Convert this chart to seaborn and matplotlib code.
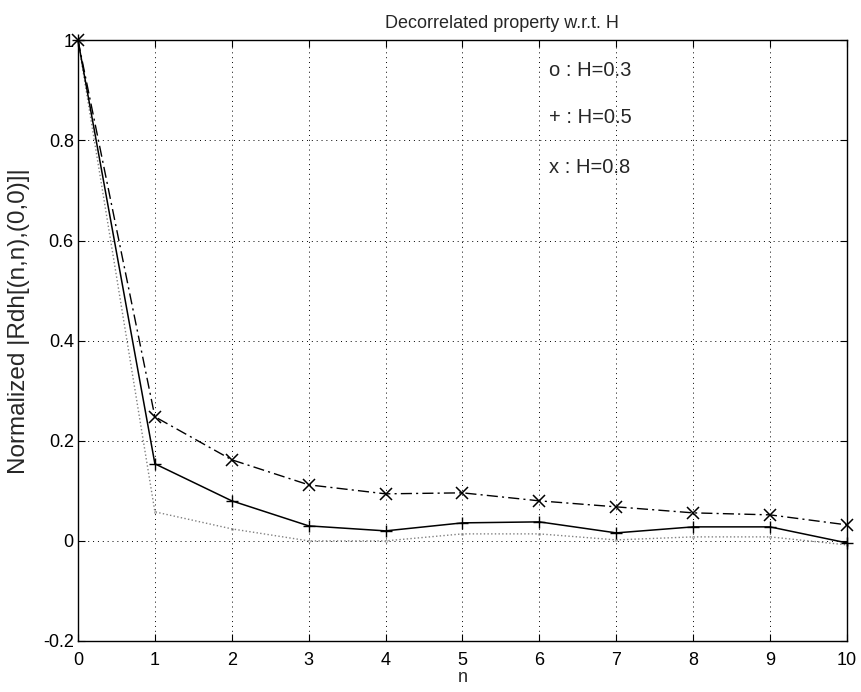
import numpy as np
import pandas as pd
import matplotlib
matplotlib.use("Agg")
import matplotlib.pyplot as plt
import seaborn as sns

n = list(range(11))
h03 = [1.0, 0.058, 0.024, 0.0, 0.0, 0.014, 0.014, 0.002, 0.008, 0.008, -0.008]
h05 = [1.0, 0.154, 0.080, 0.030, 0.020, 0.036, 0.038, 0.016, 0.028, 0.028, -0.004]
h08 = [1.0, 0.248, 0.162, 0.112, 0.094, 0.096, 0.080, 0.068, 0.056, 0.052, 0.032]
legend_texts = ["o : H=0.3", "+ : H=0.5", "x : H=0.8"]
xticks = list(range(11))
yticks = [-0.2, 0, 0.2, 0.4, 0.6, 0.8, 1]
ytick_labels = ["-0.2", "0", "0.2", "0.4", "0.6", "0.8", "1"]

sns.set_style("white")
plt.rcParams['font.family'] = ['Liberation Sans', 'DejaVu Sans']

fig = plt.figure(figsize=(8.61, 6.92), dpi=100)
ax = fig.add_axes([0.0906, 0.0737, 0.893, 0.868])

df = pd.DataFrame({"n": n, "h03": h03, "h05": h05, "h08": h08})
sns.lineplot(data=df, x="n", y="h03", ax=ax, color="#808080", linestyle=":",
             linewidth=1.0)
ax.lines[-1].set(marker="o", markersize=1.5, markeredgewidth=0.5,
                 markerfacecolor="none", markeredgecolor="#999999", clip_on=False)
sns.lineplot(data=df, x="n", y="h05", ax=ax, color="black", linestyle="-",
             linewidth=1.1)
ax.lines[-1].set(marker="+", markersize=9, markeredgewidth=1.0,
                 markeredgecolor="black", clip_on=False)
sns.lineplot(data=df, x="n", y="h08", ax=ax, color="black",
             linestyle=(0, (8, 3, 1.5, 3)), linewidth=1.0)
ax.lines[-1].set(marker="x", markersize=9, markeredgewidth=1.1,
                 markeredgecolor="black", clip_on=False)

ax.set_xlim(0, 10)
ax.set_ylim(-0.2, 1)
ax.set_xticks(xticks)
ax.set_yticks(yticks)
ax.set_yticklabels(ytick_labels)
ax.tick_params(direction="in", length=5, width=0.8, labelsize=13, colors="black",
               top=True, right=True, bottom=True, left=True, pad=3)
ax.tick_params(axis="x", pad=8)
ax.grid(True, linestyle=(0, (1, 4)), color="black", linewidth=0.7)
for s in ax.spines.values():
    s.set_color("black")
    s.set_linewidth(1.0)

ax.set_xlabel("n", fontsize=13, labelpad=0)
ax.set_ylabel("Normalized |Rdh[(n,n),(0,0)]|", fontsize=17.5, y=0.532)
ax.yaxis.set_label_coords(-0.062, 0.532)
ax.set_title("Decorrelated property w.r.t. H", fontsize=13, pad=9, x=0.551)

ys = [0.94, 0.846, 0.746]
for t, yv in zip(legend_texts, ys):
    ax.text(6.12, yv, t, fontsize=14.5, va="center", ha="left")

fig.savefig("out.png", dpi=100)
